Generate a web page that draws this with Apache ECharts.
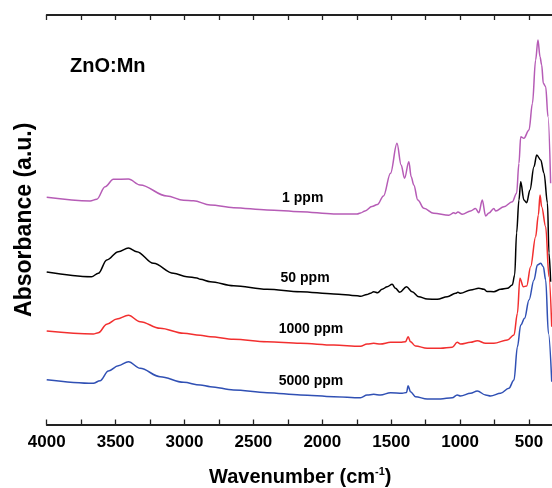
<!DOCTYPE html>
<html>
<head>
<meta charset="utf-8">
<script src="https://cdn.jsdelivr.net/npm/echarts@6/dist/echarts.min.js"></script>
<style>html,body{margin:0;padding:0;background:#fff}#c{width:552px;height:488px}</style>
</head>
<body>
<div id="c"></div>
<script>
// Wavenumber tick labels (cm-1)
const xTicks = [4000, 3500, 3000, 2500, 2000, 1500, 1000, 500];

// 1 ppm (magenta)
const wn1 = [4000,3685,3637,3576,3516,3407,3322,3128,3007,2935,2813,2644,2401,2159,1917,1747,1723,1690,1640,1600,1556,1505,1458,1428,1403,1372,1355,1336,1307,1263,1191,1082,1045,1033,1016,984,924,888,864,839,815,791,755,742,682,621,590,573,560,537,500,475,452,435,420,408,396,379,362,343];
const ab1 = [2.272,2.235,2.252,2.378,2.452,2.455,2.395,2.285,2.242,2.238,2.195,2.168,2.145,2.128,2.105,2.105,2.115,2.135,2.18,2.2,2.285,2.512,2.812,2.595,2.462,2.628,2.478,2.395,2.245,2.162,2.112,2.092,2.118,2.11,2.125,2.102,2.135,2.16,2.118,2.245,2.085,2.115,2.16,2.135,2.178,2.228,2.312,2.612,2.878,2.862,2.945,3.212,3.645,3.845,3.678,3.595,3.412,3.378,3.078,2.412];

// 50 ppm (black)
const wn50 = [4000,3675,3625,3564,3480,3407,3346,3225,3080,2983,2910,2886,2813,2644,2401,2159,1917,1747,1723,1675,1651,1627,1598,1566,1529,1493,1469,1438,1389,1348,1300,1239,1166,1093,1033,1016,997,924,864,827,803,755,706,657,621,604,590,573,560,537,517,493,464,444,415,391,366,355,343];
const ab50 = [1.525,1.478,1.512,1.645,1.728,1.765,1.728,1.612,1.512,1.478,1.465,1.452,1.428,1.388,1.352,1.328,1.305,1.288,1.282,1.30,1.312,1.328,1.318,1.352,1.378,1.402,1.362,1.322,1.378,1.328,1.278,1.255,1.252,1.278,1.312,1.322,1.312,1.345,1.362,1.352,1.33,1.328,1.352,1.362,1.395,1.495,1.915,2.245,2.428,2.245,2.218,2.345,2.578,2.695,2.645,2.512,2.215,1.715,1.428];

// 1000 ppm (red)
const wn1000 = [4000,3662,3625,3564,3491,3407,3322,3177,3007,2886,2813,2644,2401,2159,1917,1723,1675,1627,1578,1505,1433,1396,1377,1360,1324,1239,1142,1057,1021,997,924,875,815,755,657,609,584,566,541,517,488,452,432,420,408,379,355,335];
const ab1000 = [0.935,0.905,0.918,1.002,1.055,1.092,1.028,0.962,0.912,0.892,0.877,0.852,0.828,0.812,0.795,0.782,0.805,0.812,0.805,0.822,0.822,0.828,0.878,0.828,0.785,0.762,0.762,0.772,0.822,0.805,0.822,0.838,0.812,0.812,0.845,0.895,1.112,1.462,1.378,1.385,1.578,1.878,2.095,2.295,2.178,1.978,1.478,0.978];

// 5000 ppm (blue)
const wn5000 = [4000,3662,3613,3552,3480,3407,3322,3177,3007,2886,2813,2644,2401,2159,1917,1723,1675,1627,1578,1505,1420,1389,1377,1360,1324,1239,1142,1057,1021,997,924,875,815,779,706,646,609,584,560,532,500,464,439,415,396,379,359,335];
const ab5000 = [0.448,0.412,0.438,0.535,0.588,0.628,0.562,0.478,0.422,0.395,0.378,0.345,0.318,0.295,0.278,0.268,0.295,0.302,0.295,0.318,0.312,0.32,0.388,0.328,0.278,0.255,0.255,0.268,0.295,0.285,0.312,0.335,0.295,0.285,0.312,0.362,0.445,0.778,0.995,1.062,1.245,1.445,1.595,1.612,1.578,1.445,0.912,0.428];

const seriesNames = ['1 ppm', '50 ppm', '1000 ppm', '5000 ppm'];
const seriesColors = ['#b65cb6', '#000000', '#f22f2f', '#3050b4'];
// curve label anchor points [wavenumber, absorbance]
const labelPos = [[2142, 2.262], [2125, 1.468], [2082, 0.952], [2082, 0.435]];

const FONT = '"Liberation Sans", Arial, Helvetica, sans-serif';
const wns = [wn1, wn50, wn1000, wn5000];
const abs = [ab1, ab50, ab1000, ab5000];

const chart = echarts.init(document.getElementById('c'), null, {renderer: 'canvas'});

const series = seriesNames.map((name, i) => ({
  name: name,
  type: 'line',
  xAxisIndex: 0,
  yAxisIndex: 0,
  showSymbol: false,
  symbol: 'none',
  smooth: 0.35,
  smoothMonotone: 'x',
  clip: false,
  lineStyle: {width: 1.5, color: seriesColors[i]},
  itemStyle: {color: seriesColors[i]},
  data: wns[i].map((w, k) => [w, abs[i][k]]),
  markPoint: {
    symbol: 'circle',
    symbolSize: 0,
    silent: true,
    label: {
      show: true,
      position: 'inside',
      formatter: name,
      color: '#000',
      fontFamily: FONT,
      fontWeight: 'bold',
      fontSize: 14
    },
    data: [{coord: labelPos[i]}]
  }
}));

const axisCommon = {
  type: 'value',
  min: 0,
  max: 4000,
  interval: 250,
  inverse: true,
  splitLine: {show: false},
  axisLine: {show: true, onZero: false, lineStyle: {color: '#222', width: 1.8}},
  axisTick: {show: true, inside: true, length: 5, lineStyle: {color: '#222', width: 1.3}}
};

chart.setOption({
  animation: false,
  backgroundColor: '#fff',
  grid: {left: 46.7, top: 15, width: 551.2, height: 409.5, containLabel: false, outerBoundsMode: 'none'},
  xAxis: [
    Object.assign({}, axisCommon, {
      position: 'bottom',
      name: '{a|Wavenumber (cm}{s|-1}{a|)}',
      nameLocation: 'middle',
      nameGap: 42,
      nameTextStyle: {
        padding: [0, 44, 0, 0],
        rich: {
          a: {fontFamily: FONT, fontWeight: 'bold', fontSize: 20, color: '#000', lineHeight: 22},
          s: {fontFamily: FONT, fontWeight: 'bold', fontSize: 11, color: '#000', verticalAlign: 'top', lineHeight: 22, padding: [0, 0, 10, 0]}
        }
      },
      axisLabel: {
        show: true,
        margin: 9,
        fontFamily: FONT,
        fontWeight: 'bold',
        fontSize: 17,
        color: '#000',
        hideOverlap: false,
        formatter: v => (xTicks.indexOf(v) >= 0 ? String(v) : '')
      }
    }),
    Object.assign({}, axisCommon, {
      position: 'top',
      axisLabel: {show: false}
    })
  ],
  yAxis: {
    type: 'value',
    min: 0,
    max: 4.095,
    name: 'Absorbance (a.u.)',
    nameLocation: 'middle',
    nameGap: 11,
    nameTextStyle: {fontFamily: FONT, fontWeight: 'bold', fontSize: 23, color: '#000'},
    axisLine: {show: true, lineStyle: {color: '#222', width: 1.8}},
    axisTick: {show: false},
    axisLabel: {show: false},
    splitLine: {show: false}
  },
  graphic: [{
    type: 'text',
    left: 70,
    top: 56,
    style: {text: 'ZnO:Mn', font: 'bold 20px ' + FONT, fill: '#000'}
  }],
  series: series
});
</script>
</body>
</html>
